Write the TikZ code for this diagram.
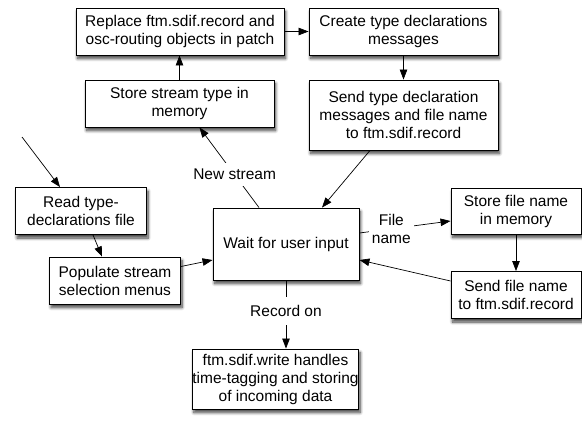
\documentclass[tikz,border=0pt]{standalone}
\usepackage{fontspec}
\setmainfont{Liberation Sans}
\usetikzlibrary{arrows.meta,shadows.blur}

\tikzset{
  stepbox/.style={draw, line width=0.9pt, fill=white, align=center, inner sep=0pt,
    blur shadow={shadow xshift=1.5pt, shadow yshift=-3.5pt, shadow blur steps=8, shadow blur radius=3pt, shadow opacity=75},
    font=\fontsize{15.5}{18}\selectfont},
  flow/.style={-{Triangle[length=10pt,width=7.5pt]}, line width=0.7pt},
  lbl/.style={font=\fontsize{15.5}{18}\selectfont, align=center, fill=white, inner sep=3pt}
}

\begin{document}
\begin{tikzpicture}[x=1pt, y=-1pt]
  \useasboundingbox (0,0) rectangle (582,421);

  % boxes, placed at pixel coordinates
  \node[stepbox, minimum width=208pt, minimum height=47pt] (replace) at (180, 31.5)
    {Replace ftm.sdif.record and\\osc-routing objects in patch};
  \node[stepbox, minimum width=189pt, minimum height=47pt] (create) at (403.5, 31.5)
    {Create type declarations\\messages};
  \node[stepbox, minimum width=189pt, minimum height=47pt] (storetype) at (179.5, 103.5)
    {Store stream type in\\memory};
  \node[stepbox, minimum width=189pt, minimum height=70pt] (sendtype) at (403.5, 115)
    {Send type declaration\\messages and file name\\to ftm.sdif.record};
  \node[stepbox, minimum width=131pt, minimum height=47pt] (readfile) at (81, 211)
    {Read type-\\declarations file};
  \node[stepbox, minimum width=131pt, minimum height=47pt] (populate) at (115, 280.5)
    {Populate stream\\selection menus};
  \node[stepbox, minimum width=146pt, minimum height=72pt] (wait) at (286, 244)
    {Wait for user input};
  \node[stepbox, minimum width=130pt, minimum height=46pt] (storefile) at (516, 211)
    {Store file name\\in memory};
  \node[stepbox, minimum width=130pt, minimum height=47pt] (sendfile) at (516, 295)
    {Send file name\\to ftm.sdif.record};
  \node[stepbox, minimum width=165pt, minimum height=60pt] (write) at (275.5, 379)
    {ftm.sdif.write handles\\time-tagging and storing\\of incoming data};

  \coordinate (start) at (22, 137);

  % connectors
  \draw[flow] (replace.east) -- (create.west);
  \draw[flow] (create.south) -- (sendtype.north);
  \draw[flow] ([xshift=-33.5pt]sendtype.south) -- ([xshift=36pt]wait.north);
  \draw[flow] (storetype.north) -- (storetype.north |- replace.south);
  \draw[flow] ([xshift=-27pt]wait.north) -- node[lbl, pos=0.41, inner ysep=6pt] {New stream} ([xshift=20pt]storetype.south);
  \draw[flow] (start) -- ([xshift=-21pt]readfile.north);
  \draw[flow] ([xshift=12pt]readfile.south) -- ([xshift=-13pt]populate.north);
  \draw[flow] ([yshift=14pt]populate.east) -- ([yshift=-16pt]wait.west);
  \draw[flow] ([yshift=11pt]wait.east) -- node[lbl, pos=0.35] {File\\name} ([yshift=-10pt]storefile.west);
  \draw[flow] (storefile.south) -- (sendfile.north);
  \draw[flow] ([yshift=14pt]sendfile.west) -- ([yshift=-16pt]wait.east);
  \draw[flow] (wait.south) -- node[lbl, pos=0.45, inner ysep=8pt] {Record on} (wait.south |- write.north);
\end{tikzpicture}
\end{document}
